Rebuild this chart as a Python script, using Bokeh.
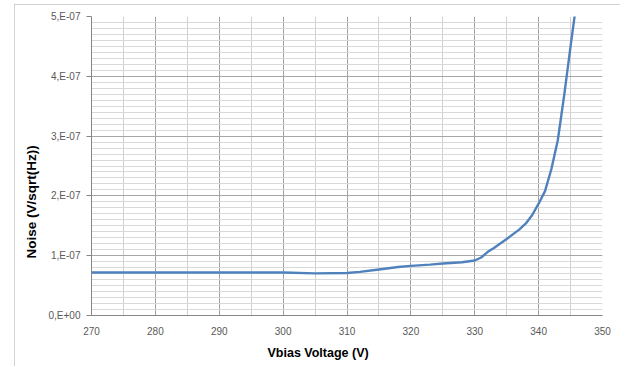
from bokeh.plotting import figure
from bokeh.models import FixedTicker, CustomJSTickFormatter, Range1d, Title
from bokeh.embed import file_html
from bokeh.resources import INLINE

# Bias voltage sweep (V) and measured noise density (V/sqrt(Hz))
vbias = [270, 275, 280, 285, 290, 295, 300, 305, 310, 312, 315, 318, 320, 323,
         325, 328, 330, 331, 332, 333, 335, 337, 338, 339, 340, 341, 342, 343,
         344, 345, 346]
noise = [0.72e-7, 0.72e-7, 0.72e-7, 0.72e-7, 0.72e-7, 0.72e-7, 0.72e-7, 0.705e-7,
         0.71e-7, 0.73e-7, 0.77e-7, 0.81e-7, 0.83e-7, 0.85e-7, 0.87e-7, 0.89e-7,
         0.92e-7, 0.97e-7, 1.06e-7, 1.13e-7, 1.28e-7, 1.44e-7, 1.54e-7, 1.68e-7,
         1.87e-7, 2.08e-7, 2.45e-7, 2.93e-7, 3.68e-7, 4.5e-7, 5.3e-7]

x_ticks = [270, 280, 290, 300, 310, 320, 330, 340, 350]
x_minor = [275, 285, 295, 305, 315, 325, 335, 345]
y_ticks = [0.0, 1e-7, 2e-7, 3e-7, 4e-7, 5e-7]
y_minor = [k * 1e-8 for k in range(51)]

# chart box placed inside the page, frame edges relative to the box
BOX_L, BOX_T, BOX_R, BOX_B = 14, 4, 620, 366
FL, FR, FT, FB = 91, 602, 16, 315

p = figure(width=BOX_R - BOX_L, height=BOX_B - BOX_T,
           output_backend="svg", toolbar_location=None,
           x_range=Range1d(270, 350), y_range=Range1d(0, 5e-7),
           min_border_left=FL - BOX_L, min_border_right=BOX_R - FR,
           min_border_top=FT - BOX_T, min_border_bottom=BOX_B - FB,
           margin=(BOX_T, 625 - BOX_R, 367 - BOX_B, BOX_L),
           styles={"outline": "2px solid #c4c4c4", "outline-offset": "-2px"})
p.background_fill_color = "white"
p.border_fill_color = "white"
p.outline_line_color = None

tick_font = "Liberation Sans"
tick_color = "#595959"

# x axis
p.xaxis.ticker = FixedTicker(ticks=x_ticks, minor_ticks=x_minor)
p.xaxis.major_label_text_font = tick_font
p.xaxis.major_label_text_font_size = "10px"
p.xaxis.major_label_text_color = tick_color
p.xaxis.major_tick_out = 0
p.xaxis.major_tick_in = 0
p.xaxis.minor_tick_out = 0
p.xaxis.minor_tick_in = 0
p.xaxis.axis_line_color = "#868686"
p.xaxis.major_label_standoff = 11

# y axis
p.yaxis.ticker = FixedTicker(ticks=y_ticks, minor_ticks=y_minor)
p.yaxis.formatter = CustomJSTickFormatter(
    code="return tick == 0 ? '0,E+00' : Math.round(tick * 1e7) + ',E-07';")
p.yaxis.major_label_text_font = tick_font
p.yaxis.major_label_text_font_size = "10px"
p.yaxis.major_label_text_color = tick_color
p.yaxis.major_tick_out = 5
p.yaxis.major_tick_in = 0
p.yaxis.major_tick_line_color = "#868686"
p.yaxis.minor_tick_out = 0
p.yaxis.minor_tick_in = 0
p.yaxis.axis_line_color = "#868686"
p.yaxis.major_label_standoff = 6

# grid lines
p.xgrid.grid_line_color = "#a0a0a0"
p.xgrid.minor_grid_line_color = "#d0d0d0"
p.ygrid.grid_line_color = "#a6a6a6"
p.ygrid.minor_grid_line_color = "#d9d9d9"

# noise curve
p.line(vbias, noise, line_color="#4f81bd", line_width=2.4)

# axis titles
p.add_layout(Title(text="Vbias Voltage (V)", align="left", offset=176,
                   standoff=12, text_font=tick_font, text_font_style="bold",
                   text_font_size="12.5px", text_color="black"), "below")
p.add_layout(Title(text="Noise (V/sqrt(Hz))", align="left", offset=57,
                   standoff=14, text_font=tick_font, text_font_style="bold",
                   text_font_size="13.5px", text_color="black"), "left")

open("out.html", "w").write(file_html(p, INLINE))
